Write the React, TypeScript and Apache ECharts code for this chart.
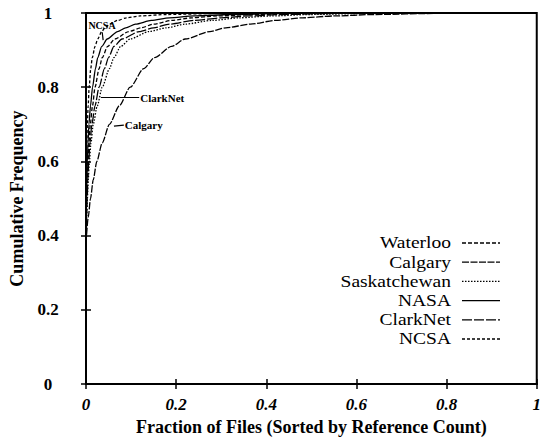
import React, { useEffect, useRef } from "react";
import * as echarts from "echarts";

// Cumulative frequency levels shared by all curves
const yLevels = [0.38, 0.45, 0.5, 0.55, 0.6, 0.65, 0.7, 0.75, 0.8, 0.85, 0.88, 0.91, 0.93, 0.95, 0.96, 0.97, 0.98, 0.987, 0.992, 0.996, 0.999, 1.0];

// Fraction of files at which each trace reaches the matching level
const ncsaX = [0, 0.0003, 0.0006, 0.001, 0.0015, 0.002, 0.003, 0.0048, 0.007, 0.0105, 0.014, 0.02, 0.026, 0.035, 0.042, 0.052, 0.07, 0.09, 0.12, 0.18, 0.3, 0.5];
const nasaX = [0, 0.0006, 0.0012, 0.002, 0.003, 0.0045, 0.0065, 0.01, 0.0145, 0.021, 0.026, 0.035, 0.047, 0.07, 0.088, 0.11, 0.145, 0.185, 0.24, 0.32, 0.45, 0.7];
const waterlooX = [0, 0.0009, 0.0018, 0.003, 0.0045, 0.0065, 0.0095, 0.0145, 0.02, 0.029, 0.036, 0.048, 0.064, 0.095, 0.122, 0.15, 0.19, 0.235, 0.29, 0.37, 0.5, 0.75];
const clarkNetX = [0, 0.0012, 0.0025, 0.004, 0.006, 0.0088, 0.013, 0.02, 0.029, 0.041, 0.05, 0.062, 0.08, 0.118, 0.15, 0.185, 0.24, 0.3, 0.36, 0.44, 0.57, 0.8];
const saskatchewanX = [0, 0.0015, 0.003, 0.005, 0.0075, 0.011, 0.016, 0.025, 0.036, 0.052, 0.062, 0.077, 0.098, 0.14, 0.178, 0.22, 0.28, 0.34, 0.41, 0.5, 0.63, 0.85];
const calgaryX = [0, 0.005, 0.01, 0.016, 0.024, 0.036, 0.052, 0.074, 0.098, 0.128, 0.152, 0.19, 0.22, 0.275, 0.31, 0.365, 0.42, 0.48, 0.55, 0.64, 0.78, 0.95];

const legendNames = ["Waterloo", "Calgary", "Saskatchewan", "NASA", "ClarkNet", "NCSA"];
const xTicks = [0, 0.2, 0.4, 0.6, 0.8, 1];
const yTicks = [0, 0.2, 0.4, 0.6, 0.8, 1];

const dashes: Record<string, any> = {
  Waterloo: [4, 2],
  Calgary: [7, 1.5],
  Saskatchewan: [1.5, 1.5],
  NASA: "solid",
  ClarkNet: [10, 2],
  NCSA: [3, 2],
};

const seriesX: Record<string, number[]> = {
  Waterloo: waterlooX,
  Calgary: calgaryX,
  Saskatchewan: saskatchewanX,
  NASA: nasaX,
  ClarkNet: clarkNetX,
  NCSA: ncsaX,
};

const FONT = "'Liberation Serif', 'DejaVu Serif', serif";

export default function App() {
  const ref = useRef<HTMLDivElement>(null);
  useEffect(() => {
    document.body.style.margin = "0";
    const chart = echarts.init(ref.current!, undefined, { renderer: "svg" });

    const fmt = (v: number) => (xTicks.includes(v) || yTicks.includes(v) ? String(v) : "");

    const annoLabel = (text: string, size: number, distance: number) => ({
      show: true,
      position: "end",
      distance,
      formatter: text,
      color: "#000",
      fontFamily: FONT,
      fontWeight: "bold",
      fontSize: size,
    });

    const annotation = (name: string) => {
      const base = { symbol: ["none", "none"], silent: true, lineStyle: { color: "#000", type: "solid", width: 1.2 } };
      if (name === "ClarkNet") {
        return { ...base, label: annoLabel("ClarkNet", 11, 1), data: [[{ coord: [0.033, 0.772] }, { coord: [0.118, 0.772] }]] };
      }
      if (name === "Calgary") {
        return { ...base, label: annoLabel("Calgary", 11, 1), data: [[{ coord: [0.062, 0.695] }, { coord: [0.084, 0.698] }]] };
      }
      if (name === "NCSA") {
        return { ...base, label: annoLabel("NCSA", 10, 2), data: [[{ coord: [0.038, 0.927] }, { coord: [0.036, 0.948] }]] };
      }
      return undefined;
    };

    const series = legendNames.map((name) => ({
      name,
      type: "line",
      xAxisIndex: 0,
      yAxisIndex: 0,
      showSymbol: false,
      smooth: 0.25,
      smoothMonotone: "x",
      lineStyle: { color: "#000", width: 1.3, type: dashes[name] },
      data: seriesX[name].map((x, i) => [x, yLevels[i]]),
      markLine: annotation(name),
      z: 3,
    }));

    // Legend drawn as text + sample line
    const legendTop = 243;
    const legendStep = 19.2;
    const legendGraphics: any[] = [];
    legendNames.forEach((name, i) => {
      const y = legendTop + i * legendStep;
      legendGraphics.push({
        type: "text",
        x: 451,
        y,
        scaleX: 1.22,
        style: { text: name, fill: "#000", font: `16px ${FONT}`, textAlign: "right", textVerticalAlign: "middle" },
      });
      legendGraphics.push({
        type: "line",
        shape: { x1: 462, y1: y, x2: 500, y2: y },
        style: { stroke: "#000", lineWidth: 1.3, lineDash: dashes[name] === "solid" ? null : dashes[name] },
      });
    });

    const axisCommon = {
      type: "value",
      min: 0,
      max: 1,
      interval: 0.2,
      axisLine: { show: true, lineStyle: { color: "#000", width: 2 } },
      axisTick: { show: true, inside: true, length: 5, lineStyle: { color: "#000", width: 1.5 } },
      splitLine: { show: false },
    };

    chart.setOption({
      animation: false,
      backgroundColor: "#fff",
      grid: { left: 85, right: 3, top: 13, bottom: 54, show: true, borderColor: "#000", borderWidth: 2 },
      xAxis: [
        {
          ...axisCommon,
          name: "Fraction of Files (Sorted by Reference Count)",
          nameLocation: "middle",
          nameGap: 33,
          nameTextStyle: { color: "#000", fontFamily: FONT, fontSize: 18, fontWeight: "bold" },
          axisLabel: { color: "#000", fontFamily: FONT, fontSize: 17, fontWeight: "bold", fontStyle: "italic", margin: 12, formatter: fmt },
        },
        { ...axisCommon, position: "top", axisLabel: { show: false } },
      ],
      yAxis: [
        {
          ...axisCommon,
          name: "Cumulative Frequency",
          nameLocation: "middle",
          nameGap: 60,
          nameTextStyle: { color: "#000", fontFamily: FONT, fontSize: 18, fontWeight: "bold" },
          axisLabel: { color: "#000", fontFamily: FONT, fontSize: 17, fontWeight: "bold", align: "center", margin: 38, formatter: fmt },
        },
        { ...axisCommon, position: "right", axisLabel: { show: false } },
      ],
      series,
      graphic: legendGraphics,
    });

    return () => chart.dispose();
  }, []);

  return <div ref={ref} style={{ position: "absolute", left: 0, top: 0, width: 544, height: 441 }} />;
}
